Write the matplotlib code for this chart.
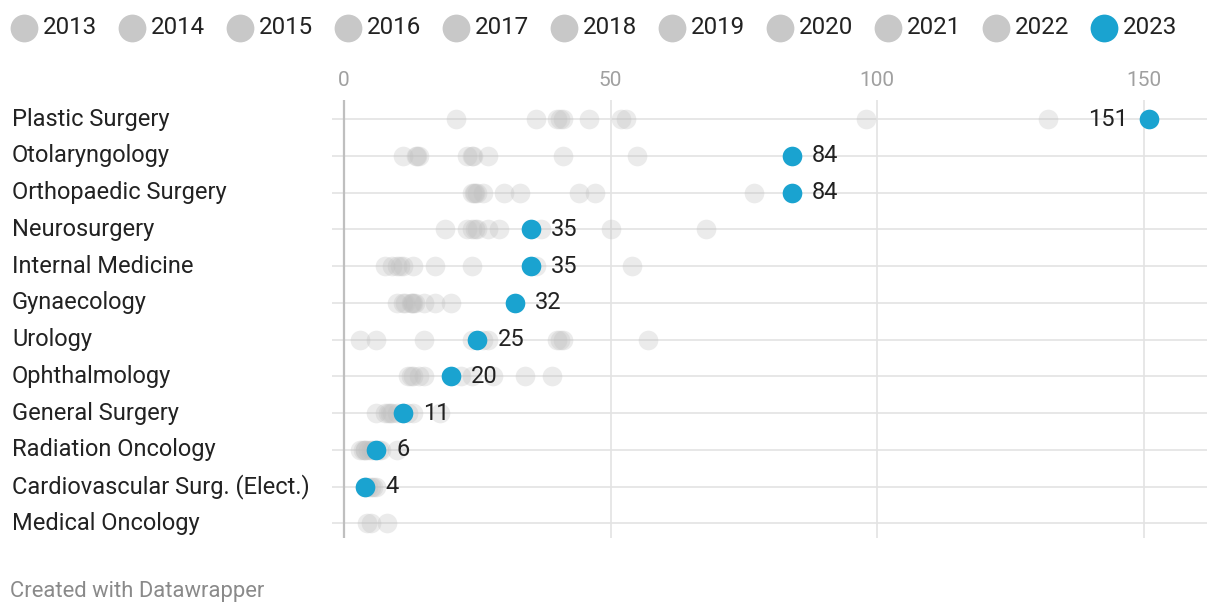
import numpy as np
import matplotlib.pyplot as plt
import matplotlib.transforms as mtransforms

plt.rcParams["font.family"] = ["Roboto", "DejaVu Sans"]

# ---- data ----
specialties = [
    "Plastic Surgery", "Otolaryngology", "Orthopaedic Surgery", "Neurosurgery",
    "Internal Medicine", "Gynaecology", "Urology", "Ophthalmology",
    "General Surgery", "Radiation Oncology", "Cardiovascular Surg. (Elect.)",
    "Medical Oncology",
]
years = ["2013", "2014", "2015", "2016", "2017", "2018", "2019", "2020", "2021", "2022", "2023"]

# earlier years (2013-2022), one list per specialty; nan = no value
past_values = [
    [21, 36, 40, 41, 40.5, 46, 52, 53, 98, 132],
    [11, 13.5, 14, 13.7, 23, 24, 27, 41, 55, 24.2],
    [24, 24.6, 26, 30, 33, 44, 47, 77, 25, 24.4],
    [19, 23, 24, 25, 27, 29, 37, 50, 68, 24.5],
    [7.7, 9, 10, 11, 13, 17, 24, 36, 54, 10.5],
    [10, 11.5, 12.5, 13, 15, 17, 20, 12.8, 13.3, 11],
    [3, 6, 15, 24, 27, 40, 41, 57, 26, 40.5],
    [12, 13, 14, 15, 24, 28, 34, 39, 12.6, 22],
    [6, 7.7, 8.6, 13, 18, 9, 10, 12, 8.2, 11],
    [3, 4, 5, 10, 3.5, 4.5, 5.5, 6.5, 4, 7],
    [4, 5, 6, 4.5, 5.5, np.nan, np.nan, np.nan, np.nan, np.nan],
    [4.4, 5, 8, np.nan, np.nan, np.nan, np.nan, np.nan, np.nan, np.nan],
]
values_2023 = [151, 84, 84, 35, 35, 32, 25, 20, 11, 6, 4, np.nan]

x_ticks = [0, 50, 100, 150]

blue = "#1aa3d0"
grey = "#bdbdbd"
fs = 17

fig = plt.figure(figsize=(12.2, 6.14), dpi=100)
ax = fig.add_axes([332 / 1220, 1 - 538 / 614, (1207 - 332) / 1220, (538 - 100) / 614])

n = len(specialties)
rows = np.arange(n)

# gridlines
for r in rows:
    ax.axhline(r, color="#e3e3e3", lw=1.2, zorder=0)
for t in x_ticks:
    ax.axvline(t, color="#bfbfbf" if t == 0 else "#e3e3e3", lw=1.6 if t == 0 else 1.2, zorder=0)

# grey dots for earlier years
for r, vals in enumerate(past_values):
    v = np.array(vals, dtype=float)
    ax.scatter(v, np.full(len(v), r), s=200, color=grey, alpha=0.3, lw=0, zorder=2)

# 2023 dots + labels
for r, v in enumerate(values_2023):
    if np.isnan(v):
        continue
    ax.scatter([v], [r], s=200, color=blue, lw=0, zorder=3)
    if v > 140:
        ax.annotate(f"{v:.0f}", (v, r), xytext=(-15, 0), textcoords="offset points",
                    ha="right", va="center", fontsize=fs, color="#222222")
    else:
        ax.annotate(f"{v:.0f}", (v, r), xytext=(14.5, 0), textcoords="offset points",
                    ha="left", va="center", fontsize=fs, color="#222222")

ax.set_xlim(-12 / 5.33, (1207 - 344) / 5.33)
ax.set_ylim(11.4, -0.52)
ax.xaxis.tick_top()
ax.set_xticks(x_ticks)
ax.set_xticklabels([str(t) for t in x_ticks], fontsize=15, color="#a0a0a0")
ax.tick_params(axis="x", length=0, pad=7)
ax.set_yticks([])
for s in ax.spines.values():
    s.set_visible(False)

# row labels, left aligned to figure edge
trans = mtransforms.blended_transform_factory(fig.transFigure, ax.transData)
for r, name in enumerate(specialties):
    ax.text(12 / 1220, r, name, transform=trans, ha="left", va="center",
            fontsize=fs, color="#222222")

# legend row
lax = fig.add_axes([0, 1 - 46 / 614, 1, 36 / 614])
lax.set_xlim(-24 / 108, (1220 - 24) / 108)
lax.set_ylim(-1, 1)
lax.axis("off")
for i, yr in enumerate(years):
    c = blue if yr == "2023" else "#c8c8c8"
    lax.scatter([i], [0], s=400, color=c, lw=0)
    lax.text(i + 19 / 108, 0, yr, ha="left", va="center", fontsize=17.4, color="#222222")

fig.text(10 / 1220, 1 - 591 / 614, "Created with Datawrapper", ha="left", va="center",
         fontsize=15.8, color="#8a8a8a")

fig.savefig("out.png", dpi=100)
